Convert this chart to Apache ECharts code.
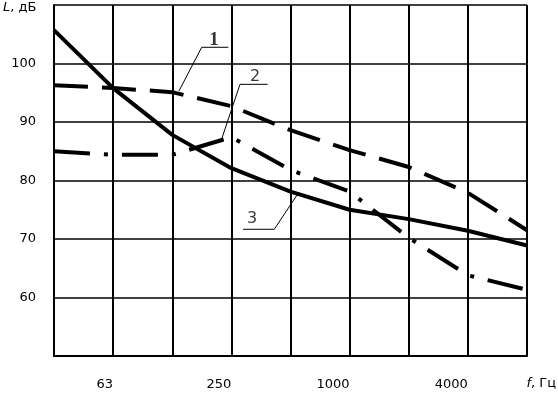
<!DOCTYPE html>
<html>
<head>
<meta charset="utf-8">
<script src="https://cdn.jsdelivr.net/npm/echarts@6/dist/echarts.min.js"></script>
<style>html,body{margin:0;padding:0;background:#fff}#c{width:558px;height:395px}</style>
</head>
<body>
<div id="c"></div>
<script>
// Octave-band centre frequencies, Hz
var categories = ['31.5', '63', '125', '250', '500', '1000', '2000', '4000', '8000'];
var shownLabels = ['63', '250', '1000', '4000'];
// Sound levels, dB
var curve1 = [96.3, 95.8, 95.1, 92.7, 88.6, 85.2, 82.3, 77.9, 71.5];
var curve2 = [85.0, 84.4, 84.4, 87.4, 81.8, 78.1, 70.2, 63.8, 61.3];
var curve3 = [105.7, 95.8, 87.8, 82.1, 78.1, 75.0, 73.4, 71.4, 68.9];
var yTicks = [60, 70, 80, 90, 100];
// Callout leaders in data units (x = band index, y = dB)
var leader1 = [[2.114, 95.3], [2.498, 102.77], [2.948, 102.77]];
var leader2 = [[2.841, 87.26], [3.146, 96.44], [3.614, 96.44]];
var leader3 = [[4.11, 77.52], [3.726, 71.66], [3.197, 71.66]];
var calloutLabels = [['1', 2.706, 104.0], ['2', 3.40, 97.7], ['3', 3.349, 73.4]];

function pts(arr) { return arr.map(function (v, i) { return [i, v]; }); }

var chart = echarts.init(document.getElementById('c'), null, {renderer: 'canvas'});
var font = 'DejaVu Sans';
function leader(d) {
  return {type: 'line', data: d, symbol: 'none', silent: true, z: 5,
    lineStyle: {color: '#000', width: 1}, animation: false};
}
chart.setOption({
  animation: false,
  grid: {left: 54, right: 31, top: 5, bottom: 39},
  xAxis: {
    type: 'value', min: 0, max: 8, interval: 1,
    axisLine: {show: true, lineStyle: {color: '#000', width: 2}},
    axisTick: {show: false},
    splitLine: {show: true, lineStyle: {color: '#000', width: 2}},
    axisLabel: {
      color: '#000', fontFamily: font, fontSize: 13, margin: 22, align: 'right',
      formatter: function (v) {
        var c = categories[Math.round(v)];
        return shownLabels.indexOf(c) >= 0 ? c : '';
      }
    }
  },
  yAxis: {
    type: 'value', min: 50, max: 110, interval: 10,
    axisLine: {show: true, lineStyle: {color: '#000', width: 2}},
    axisTick: {show: false},
    splitLine: {show: true, lineStyle: {color: '#000', width: 1.5}},
    axisLabel: {
      color: '#000', fontFamily: font, fontSize: 13, margin: 18,
      formatter: function (v) { return yTicks.indexOf(v) >= 0 ? String(v) : ''; }
    }
  },
  graphic: [
    {type: 'text', left: 3, top: 1, style: {
      text: '{i|L}, дБ', fill: '#000', font: '13px ' + font,
      rich: {i: {fontStyle: 'italic', fontFamily: font, fontSize: 13}}}},
    {type: 'text', right: 2, top: 377, style: {
      text: '{i|f}, Гц', fill: '#000', font: '13px ' + font,
      rich: {i: {fontStyle: 'italic', fontFamily: font, fontSize: 13}}}}
  ],
  series: [
    {type: 'line', name: '1', data: pts(curve1), symbol: 'none', z: 3,
      lineStyle: {color: '#000', width: 4, type: [34, 14], cap: 'butt'}},
    {type: 'line', name: '2', data: pts(curve2), symbol: 'none', z: 3,
      lineStyle: {color: '#000', width: 4, type: [36, 14, 4, 14], cap: 'butt'}},
    {type: 'line', name: '3', data: pts(curve3), symbol: 'none', z: 4,
      lineStyle: {color: '#000', width: 4}},
    leader(leader1), leader(leader2), leader(leader3),
    {type: 'scatter', symbolSize: 0, silent: true, z: 6,
      data: calloutLabels.map(function (c) { return {name: c[0], value: [c[1], c[2]]}; }),
      label: {show: true, position: 'inside', color: '#000', fontSize: 16, fontFamily: font,
        formatter: function (p) { return p.name; }},
      labelLayout: {hideOverlap: false}
    }
  ]
});
// make label "1" bold serif like the reference
chart.setOption({series: [{}, {}, {}, {}, {}, {}, {
  data: calloutLabels.map(function (c, i) {
    var d = {name: c[0], value: [c[1], c[2]]};
    if (i === 0) d.label = {fontFamily: 'Liberation Serif', fontWeight: 'bold', fontSize: 19};
    return d;
  })
}]});
</script>
</body>
</html>
